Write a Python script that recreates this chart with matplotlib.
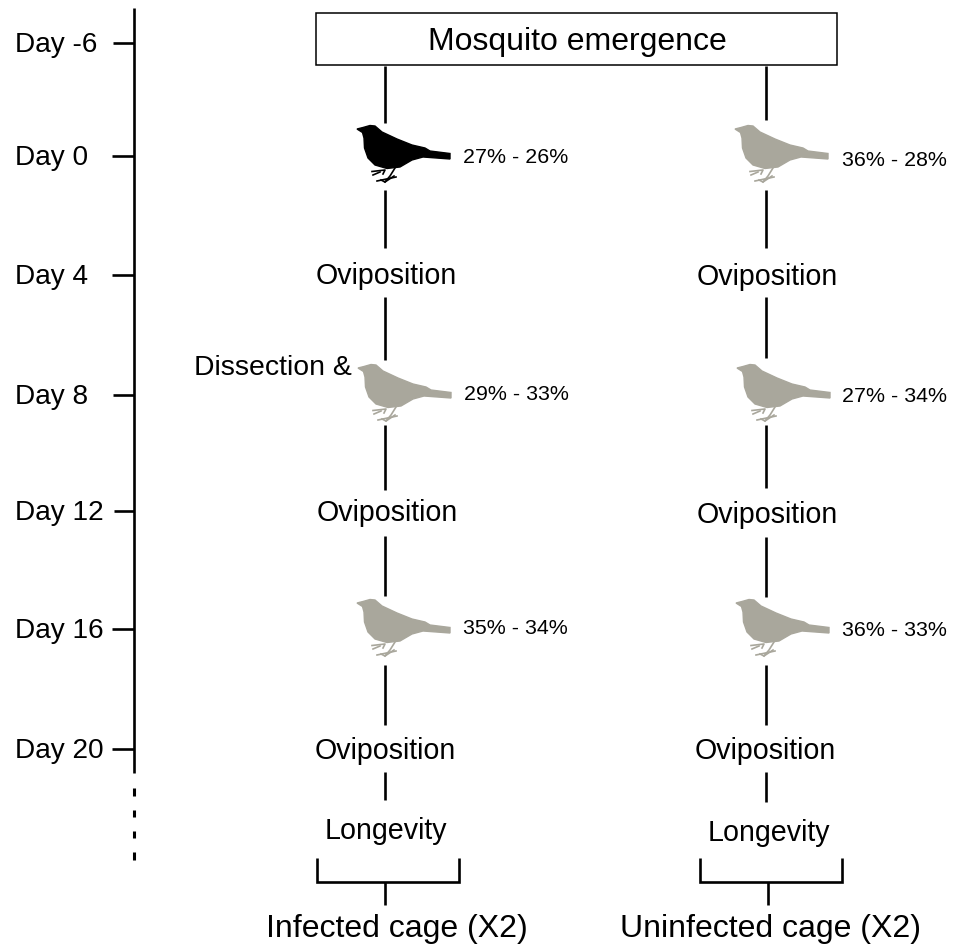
import matplotlib
matplotlib.use("Agg")
import matplotlib.pyplot as plt
from matplotlib.patches import Polygon, Rectangle

plt.rcParams['font.family'] = ['Liberation Sans', 'DejaVu Sans']

# --- content -------------------------------------------------------------
day_labels = ["Day -6", "Day 0", "Day 4", "Day 8", "Day 12", "Day 16", "Day 20"]
day_y = [43, 156, 275, 395, 511, 629, 749]
tick_start = [113, 112, 112, 113, 114, 112, 112]
day_text_x = [15, 15, 15, 15, 15, 15, 15]

left_segments = [(66, 123), (190, 248), (297, 360), (425, 490), (536, 596), (665, 725), (772, 800)]
right_segments = [(66, 120), (190, 248), (297, 358), (425, 488), (537, 597), (665, 725), (772, 802)]
dash_segments = [(788, 796), (810, 817), (831, 838), (852, 860)]

ovi_left = [("Oviposition", 386, 274), ("Oviposition", 387, 511), ("Oviposition", 385, 749), ("Longevity", 386, 829)]
ovi_right = [("Oviposition", 767, 275), ("Oviposition", 767, 513), ("Oviposition", 765, 749), ("Longevity", 769, 831)]

pct_labels = ["27% - 26%", "36% - 28%", "29% - 33%", "27% - 34%", "35% - 34%", "36% - 33%"]
pct_x = [463, 842, 464, 842, 463, 842]
pct_y = [155, 158, 392, 394, 626, 628]

# bird offsets from the black one, and their colours
bird_dx = [0, 378, 1, 380, 0, 379]
bird_dy = [0, 0, 239, 239, 474, 474]
bird_col = ["#000000", "#a9a79c", "#a9a79c", "#a9a79c", "#a9a79c", "#a9a79c"]

# outline of the black bird in pixels of the picture
body = [(357, 129), (363, 127.5), (370, 125.5), (375, 126), (382, 132), (397, 139), (412, 145),
        (425, 148), (430, 151), (450, 153.5), (450, 159), (423, 157), (412, 160), (400, 167),
        (387, 168.5), (375, 165), (368, 158), (364.5, 148), (364, 138), (362.5, 132.5)]
legs = [[(395, 168), (390, 176), (385, 182)],
        [(377, 181), (396, 177)],
        [(372, 171.5), (385, 170), (383, 174)],
        [(373, 175), (380, 172)],
        [(394, 176), (385, 182), (381, 180)]]

# --- drawing -------------------------------------------------------------
fig = plt.figure(figsize=(9.59, 9.45), dpi=100, facecolor="white")
ax = fig.add_axes([0, 0, 1, 1])
ax.set_xlim(0, 959)
ax.set_ylim(944, -1)
ax.axis("off")

K = dict(color="black", solid_capstyle="butt")
LW = 1.9
TXT = 1.5  # vertical nudge of text

# time axis
ax.plot([134, 134], [8, 773], lw=LW, **K)
for y0, y1 in dash_segments:
    ax.plot([134, 134], [y0, y1], lw=LW + 0.3, **K)
for lab, y, xs, xt in zip(day_labels, day_y, tick_start, day_text_x):
    ax.plot([xs, 134], [y, y], lw=LW, **K)
    ax.text(xt, y + TXT, lab, fontsize=20.2, ha="left", va="center")

# top box
ax.add_patch(Rectangle((316, 13), 521, 52, fc="white", ec="black", lw=1.1))
ax.text(577, 40 + TXT, "Mosquito emergence", fontsize=23, ha="center", va="center")

# cage lines
for y0, y1 in left_segments:
    ax.plot([385, 385], [y0, y1], lw=LW, **K)
for y0, y1 in right_segments:
    ax.plot([766, 766], [y0, y1], lw=LW, **K)

for lab, x, y in ovi_left + ovi_right:
    ax.text(x, y + TXT, lab, fontsize=20.6, ha="center", va="center")

ax.text(194, 366 + TXT, "Dissection &", fontsize=20.4, ha="left", va="center")

# birds
for dx, dy, c in zip(bird_dx, bird_dy, bird_col):
    ax.add_patch(Polygon([(x + dx, y + dy) for x, y in body], closed=True, fc=c, ec=c, lw=1.0, zorder=3))
    for leg in legs:
        ax.plot([p[0] + dx for p in leg], [p[1] + dy for p in leg], color=c, lw=1.2, zorder=3)

for lab, x, y in zip(pct_labels, pct_x, pct_y):
    ax.text(x, y + TXT, lab, fontsize=15.4, ha="left", va="center")

# brackets and cage labels
for x0, x1, xs, lab, xt in [(317, 459, 385, "Infected cage (X2)", 397),
                            (700, 842, 768, "Uninfected cage (X2)", 771)]:
    ax.plot([x0, x0, x1, x1], [858, 882, 882, 858], lw=LW, color="black", solid_joinstyle="miter", solid_capstyle="butt")
    ax.plot([xs, xs], [882, 905], lw=LW, **K)
    ax.text(xt, 927 + TXT, lab, fontsize=23, ha="center", va="center")

fig.savefig("out.png", dpi=100, facecolor="white")
